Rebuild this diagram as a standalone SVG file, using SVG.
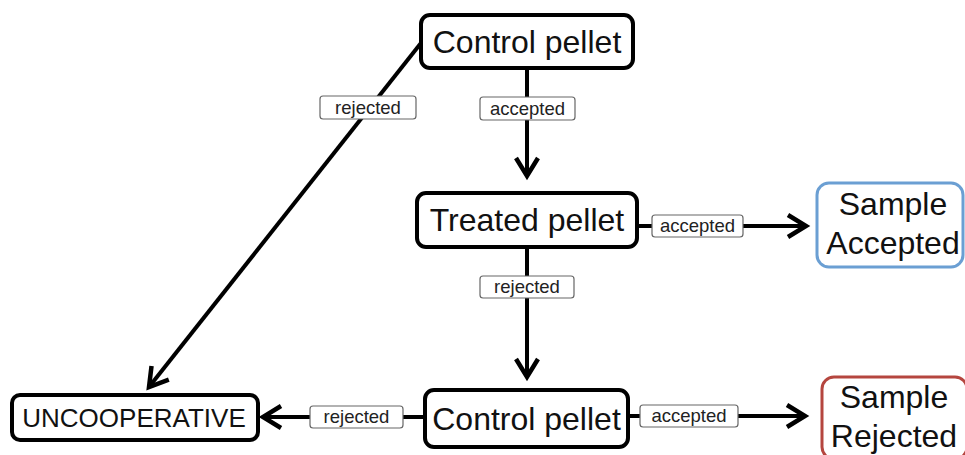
<svg xmlns="http://www.w3.org/2000/svg" width="965" height="455" viewBox="0 0 965 455">
<defs>
<style>
.node{fill:#fff;stroke:#000;stroke-width:4}
.t{font-family:"Liberation Sans",Arial,sans-serif;font-size:32px;fill:#111;text-anchor:middle}
.edge{stroke:#000;stroke-width:4;fill:none}
.lbl{fill:#fff;stroke:#666;stroke-width:1.2}
.lt{font-family:"Liberation Sans",Arial,sans-serif;font-size:18.5px;fill:#222;text-anchor:middle}
</style>
<marker id="arr" markerUnits="userSpaceOnUse" markerWidth="30" markerHeight="30" refX="21" refY="13" orient="auto">
<path d="M3,2 L21,13 L3,24" fill="none" stroke="#000" stroke-width="4.5" stroke-linejoin="miter"/>
</marker>
</defs>
<rect width="965" height="455" fill="#fff"/>
<g id="connectors">
<line class="edge" x1="527" y1="68" x2="527" y2="176" marker-end="url(#arr)"/>
<line class="edge" x1="637" y1="226" x2="806" y2="226" marker-end="url(#arr)"/>
<line class="edge" x1="527" y1="247" x2="527" y2="377" marker-end="url(#arr)"/>
<line class="edge" x1="425" y1="417" x2="263" y2="417" marker-end="url(#arr)"/>
<line class="edge" x1="628" y1="416" x2="805" y2="416" marker-end="url(#arr)"/>
<line class="edge" x1="421" y1="43" x2="149" y2="387" marker-end="url(#arr)"/>
<rect class="lbl" x="480" y="97" width="95" height="23" rx="3"/>
<text class="lt" x="527.5" y="115">accepted</text>
<rect class="lbl" x="320" y="96" width="96" height="23" rx="3"/>
<text class="lt" x="368" y="114">rejected</text>
<rect class="lbl" x="652" y="215" width="91" height="22" rx="3"/>
<text class="lt" x="697.5" y="232">accepted</text>
<rect class="lbl" x="480" y="276" width="94" height="22" rx="3"/>
<text class="lt" x="527" y="293">rejected</text>
<rect class="lbl" x="310" y="406" width="93" height="22" rx="3"/>
<text class="lt" x="356.5" y="423">rejected</text>
<rect class="lbl" x="640" y="405" width="98" height="22" rx="3"/>
<text class="lt" x="689" y="422">accepted</text>
</g>
<g id="control1">
<rect class="node" x="421" y="15" width="212" height="53" rx="9"/>
<text class="t" x="527" y="53">Control pellet</text>
</g>
<g id="treated">
<rect class="node" x="417" y="193" width="220" height="54" rx="9"/>
<text class="t" x="527" y="231">Treated pellet</text>
</g>
<g id="control2">
<rect class="node" x="425" y="390" width="203" height="57" rx="9"/>
<text class="t" x="526.5" y="430">Control pellet</text>
</g>
<g id="uncooperative">
<rect class="node" x="12" y="395" width="246" height="45" rx="8"/>
<text class="t" x="134" y="427" style="font-size:26px">UNCOOPERATIVE</text>
</g>
<g id="sampleAccepted">
<rect x="817" y="183" width="146" height="84" rx="12" fill="#fff" stroke="#6b9fd3" stroke-width="3"/>
<text class="t" x="893" y="215">Sample</text>
<text class="t" x="893" y="254">Accepted</text>
</g>
<g id="sampleRejected">
<rect x="822" y="377" width="145" height="82" rx="12" fill="#fff" stroke="#b5463f" stroke-width="3"/>
<text class="t" x="894" y="408">Sample</text>
<text class="t" x="894" y="447">Rejected</text>
</g>
</svg>
